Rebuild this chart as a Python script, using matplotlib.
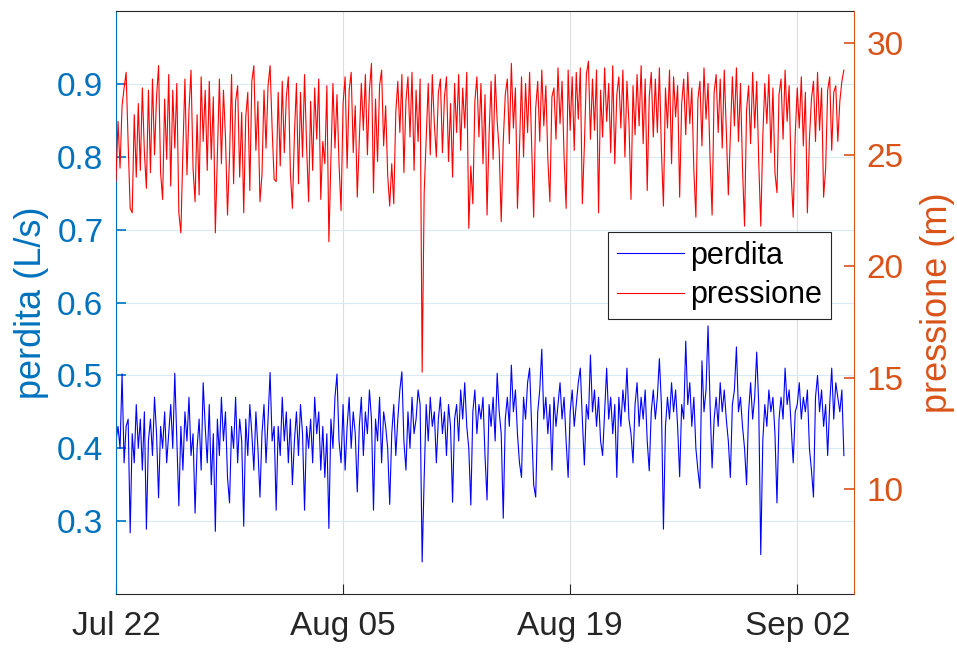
import numpy as np
import matplotlib.pyplot as plt
import matplotlib.dates as mdates

plt.rcParams['font.family'] = ['Liberation Sans', 'DejaVu Sans']

# campioni ogni 3 ore a partire dal 22 luglio, una riga = un giorno
start = np.datetime64('2019-07-22T00:00')
step = np.timedelta64(3, 'h')

perdita = [
    0.41, 0.43, 0.40, 0.502, 0.38, 0.43, 0.44, 0.284,
    0.42, 0.38, 0.46, 0.40, 0.44, 0.37, 0.45, 0.289,
    0.41, 0.44, 0.39, 0.47, 0.42, 0.332, 0.43, 0.40,
    0.45, 0.38, 0.42, 0.46, 0.40, 0.503, 0.41, 0.321,
    0.43, 0.37, 0.45, 0.41, 0.47, 0.39, 0.42, 0.311,
    0.40, 0.44, 0.37, 0.49, 0.43, 0.38, 0.46, 0.35,
    0.42, 0.286, 0.44, 0.39, 0.47, 0.41, 0.45, 0.36,
    0.325, 0.43, 0.40, 0.47, 0.38, 0.44, 0.41, 0.293,
    0.44, 0.39, 0.46, 0.42, 0.37, 0.45, 0.40, 0.333,
    0.42, 0.46, 0.38, 0.44, 0.504, 0.41, 0.43, 0.315,
    0.43, 0.39, 0.47, 0.41, 0.45, 0.38, 0.44, 0.35,
    0.41, 0.45, 0.39, 0.46, 0.42, 0.315, 0.43, 0.40,
    0.44, 0.38, 0.47, 0.42, 0.45, 0.37, 0.43, 0.36,
    0.42, 0.29, 0.44, 0.40, 0.47, 0.502, 0.41, 0.38,
    0.46, 0.37, 0.43, 0.47, 0.40, 0.45, 0.42, 0.34,
    0.43, 0.47, 0.39, 0.45, 0.42, 0.48, 0.44, 0.315,
    0.44, 0.41, 0.47, 0.38, 0.45, 0.43, 0.40, 0.323,
    0.42, 0.46, 0.39, 0.44, 0.48, 0.505, 0.41, 0.37,
    0.45, 0.40, 0.47, 0.42, 0.44, 0.48, 0.46, 0.244,
    0.36, 0.46, 0.41, 0.47, 0.43, 0.45, 0.38, 0.44,
    0.47, 0.42, 0.45, 0.39, 0.46, 0.43, 0.326, 0.44,
    0.46, 0.41, 0.48, 0.44, 0.49, 0.43, 0.40, 0.322,
    0.45, 0.48, 0.42, 0.46, 0.44, 0.47, 0.39, 0.329,
    0.46, 0.43, 0.47, 0.41, 0.503, 0.45, 0.42, 0.304,
    0.44, 0.47, 0.43, 0.514, 0.45, 0.48, 0.42, 0.38,
    0.36, 0.47, 0.44, 0.49, 0.51, 0.43, 0.35, 0.333,
    0.45, 0.48, 0.536, 0.44, 0.47, 0.42, 0.46, 0.37,
    0.47, 0.43, 0.46, 0.49, 0.44, 0.47, 0.41, 0.36,
    0.45, 0.48, 0.43, 0.46, 0.49, 0.51, 0.44, 0.377,
    0.46, 0.44, 0.528, 0.45, 0.48, 0.43, 0.47, 0.41,
    0.39, 0.45, 0.51, 0.44, 0.47, 0.42, 0.46, 0.36,
    0.47, 0.43, 0.48, 0.45, 0.51, 0.44, 0.42, 0.38,
    0.46, 0.49, 0.43, 0.47, 0.44, 0.48, 0.41, 0.369,
    0.45, 0.48, 0.44, 0.47, 0.523, 0.46, 0.289, 0.43,
    0.47, 0.44, 0.49, 0.45, 0.48, 0.43, 0.361, 0.46,
    0.44, 0.547, 0.46, 0.49, 0.43, 0.47, 0.40, 0.37,
    0.345, 0.52, 0.45, 0.48, 0.568, 0.46, 0.373, 0.44,
    0.47, 0.43, 0.49, 0.45, 0.48, 0.44, 0.41, 0.36,
    0.46, 0.48, 0.539, 0.45, 0.47, 0.43, 0.40, 0.35,
    0.45, 0.49, 0.44, 0.47, 0.532, 0.46, 0.254, 0.41,
    0.46, 0.43, 0.48, 0.45, 0.47, 0.42, 0.325, 0.44,
    0.47, 0.44, 0.51, 0.46, 0.48, 0.43, 0.38, 0.45,
    0.46, 0.49, 0.44, 0.47, 0.45, 0.48, 0.40, 0.37,
    0.333, 0.47, 0.50, 0.45, 0.48, 0.43, 0.46, 0.39,
    0.46, 0.51, 0.44, 0.49, 0.47, 0.45, 0.48, 0.39,
]

pressione = [
    23.8, 26.5, 24.4, 27.2, 28.0, 28.7, 25.5, 22.6,
    22.4, 26.8, 24.0, 27.3, 24.3, 28.0, 25.1, 23.5,
    27.9, 24.2, 28.4, 25.0, 27.6, 29.0, 24.2, 23.0,
    27.5, 24.8, 28.6, 23.6, 27.9, 25.3, 28.2, 22.4,
    21.5, 25.2, 28.4, 24.1, 27.0, 28.8, 24.4, 22.9,
    26.8, 23.2, 28.5, 25.6, 27.9, 24.3, 28.3, 24.8,
    27.6, 21.5, 25.0, 28.4, 24.6, 27.9, 25.8, 22.3,
    24.9, 28.6, 23.7, 27.4, 28.1, 24.0, 26.9, 22.4,
    26.7, 27.8, 23.4, 28.3, 29.0, 25.2, 27.4, 22.9,
    24.1, 27.9, 25.3, 28.1, 29.0, 26.2, 23.9, 23.8,
    27.8, 24.5, 28.3, 25.1, 27.6, 28.5, 24.2, 22.6,
    25.9, 28.2, 23.7, 27.8, 24.9, 28.6, 25.4, 22.9,
    27.4, 24.3, 28.0, 25.7, 28.4, 23.0, 25.6, 24.6,
    28.1, 21.1, 24.8, 28.2, 25.3, 27.7, 24.6, 22.5,
    27.3, 28.5, 24.4, 27.9, 28.7, 25.1, 27.2, 23.1,
    25.6, 28.2, 26.1, 28.6, 25.0, 27.9, 29.1, 23.3,
    27.5, 24.7, 28.1, 28.8, 25.4, 27.2, 24.1, 22.7,
    24.6, 22.8, 26.9, 28.3, 26.0, 28.6, 24.2, 27.4,
    28.5, 25.8, 28.7, 24.3, 27.9, 25.6, 28.4, 15.25,
    23.3, 25.7, 28.2, 25.0, 28.6, 26.4, 24.9, 27.8,
    28.4, 25.1, 27.6, 28.5, 24.7, 27.3, 24.0, 28.2,
    26.0, 28.6, 25.2, 28.0, 26.2, 28.7, 21.7, 24.5,
    22.8, 27.4, 28.5, 25.8, 28.2, 24.6, 27.7, 22.3,
    25.9, 28.3, 24.8, 28.6, 26.5, 25.2, 22.0, 25.6,
    27.7, 28.4, 25.5, 29.1, 26.2, 28.0, 22.6, 25.3,
    28.5, 24.9, 28.2, 26.0, 28.7, 25.4, 22.2, 27.1,
    28.3, 25.6, 28.8, 26.3, 28.1, 24.8, 22.9, 27.6,
    28.0, 25.7, 28.9, 26.4, 28.3, 24.9, 22.6, 28.8,
    26.1, 28.5, 25.2, 28.7, 26.6, 28.9, 22.8, 25.4,
    28.6, 29.2, 25.7, 28.4, 26.1, 28.8, 22.4, 27.9,
    25.8, 28.9, 26.5, 28.2, 25.1, 29.0, 24.6, 27.7,
    28.5, 26.2, 28.8, 24.9, 28.3, 26.4, 23.0, 28.1,
    25.9, 28.6, 26.3, 29.0, 25.5, 28.4, 23.4, 27.6,
    28.7, 25.8, 28.4, 26.0, 28.9, 25.2, 22.7, 28.0,
    26.2, 28.8, 24.6, 28.5, 26.7, 28.1, 23.1, 27.3,
    28.4, 25.9, 28.7, 26.4, 28.0, 24.3, 22.2, 27.5,
    28.3, 25.4, 28.9, 26.6, 28.2, 24.8, 22.3, 27.8,
    28.6, 26.0, 28.4, 25.3, 28.8, 26.1, 23.2, 25.9,
    28.5, 26.3, 28.9, 25.6, 28.2, 24.4, 21.8, 27.0,
    28.1, 25.5, 28.7, 26.2, 28.3, 24.7, 21.8, 25.8,
    28.2, 26.4, 28.6, 25.1, 28.0, 24.2, 23.3, 27.7,
    28.4, 25.7, 28.8, 26.5, 28.1, 24.1, 22.2, 25.9,
    28.0, 26.2, 28.5, 25.4, 27.8, 22.4, 25.7, 27.5,
    28.3, 25.6, 28.7, 26.1, 28.0, 23.1, 24.4, 27.9,
    28.5, 25.2, 27.8, 28.1, 25.6, 27.4, 28.3, 28.8,
]

xticks = ['2019-07-22', '2019-08-05', '2019-08-19', '2019-09-02']

c_left = '#0072BD'
c_right = '#D95319'
c_axis = '#262626'

t = start + np.arange(len(perdita)) * step

fig = plt.figure(figsize=(9.57, 6.48), dpi=100)
ax = fig.add_axes([0.1212, 0.0833, 0.7712, 0.8997])
ax2 = ax.twinx()

l1, = ax.plot(t, perdita, color='b', lw=0.8, label='perdita')
l2, = ax2.plot(t, pressione, color='r', lw=0.8, label='pressione')

ax.set_xlim(np.datetime64('2019-07-22T00:00'), np.datetime64('2019-09-05T12:00'))
ax.set_ylim(0.2, 1.0)
ax2.set_ylim(5.3, 31.45)

ax.set_xticks([np.datetime64(d) for d in xticks])
ax.xaxis.set_major_formatter(mdates.DateFormatter('%b %d'))
ax.set_yticks([0.3, 0.4, 0.5, 0.6, 0.7, 0.8, 0.9])
ax2.set_yticks([10, 15, 20, 25, 30])

# griglia: orizzontale tinta di blu, verticale grigia
ax.xaxis.grid(True, color='#DEDEDE', lw=0.8)
ax.yaxis.grid(True, color='#D9EAF5', lw=0.8)
ax.set_axisbelow(True)

ax.tick_params(axis='x', direction='in', length=7, width=0.8, colors=c_axis,
               labelsize=24, pad=12)
ax.tick_params(axis='y', direction='in', length=7, width=1.2, colors=c_left,
               labelsize=24, pad=9)
ax2.tick_params(axis='y', direction='in', length=7, width=1.2, colors=c_right,
                labelsize=24, pad=9)

for s in ['top', 'bottom']:
    ax.spines[s].set_color(c_axis)
    ax.spines[s].set_linewidth(0.8)
    ax2.spines[s].set_visible(False)
ax.spines['left'].set_color(c_left)
ax.spines['right'].set_visible(False)
ax2.spines['left'].set_visible(False)
ax2.spines['right'].set_color(c_right)
ax.spines['left'].set_linewidth(0.8)
ax2.spines['right'].set_linewidth(0.8)

ax.set_ylabel('perdita (L/s)', color=c_left, fontsize=26, labelpad=6)
ax2.set_ylabel('pressione (m)', color=c_right, fontsize=26, labelpad=12)

leg = ax2.legend([l1, l2], ['perdita', 'pressione'], loc='upper right',
                 bbox_to_anchor=(0.969, 0.621), borderaxespad=0, fontsize=22,
                 handlelength=2.2, handletextpad=0.2, borderpad=0.3,
                 labelspacing=0.3, fancybox=False, framealpha=1)
leg.get_frame().set_edgecolor(c_axis)
leg.get_frame().set_linewidth(0.8)

plt.savefig('out.png', dpi=100)
